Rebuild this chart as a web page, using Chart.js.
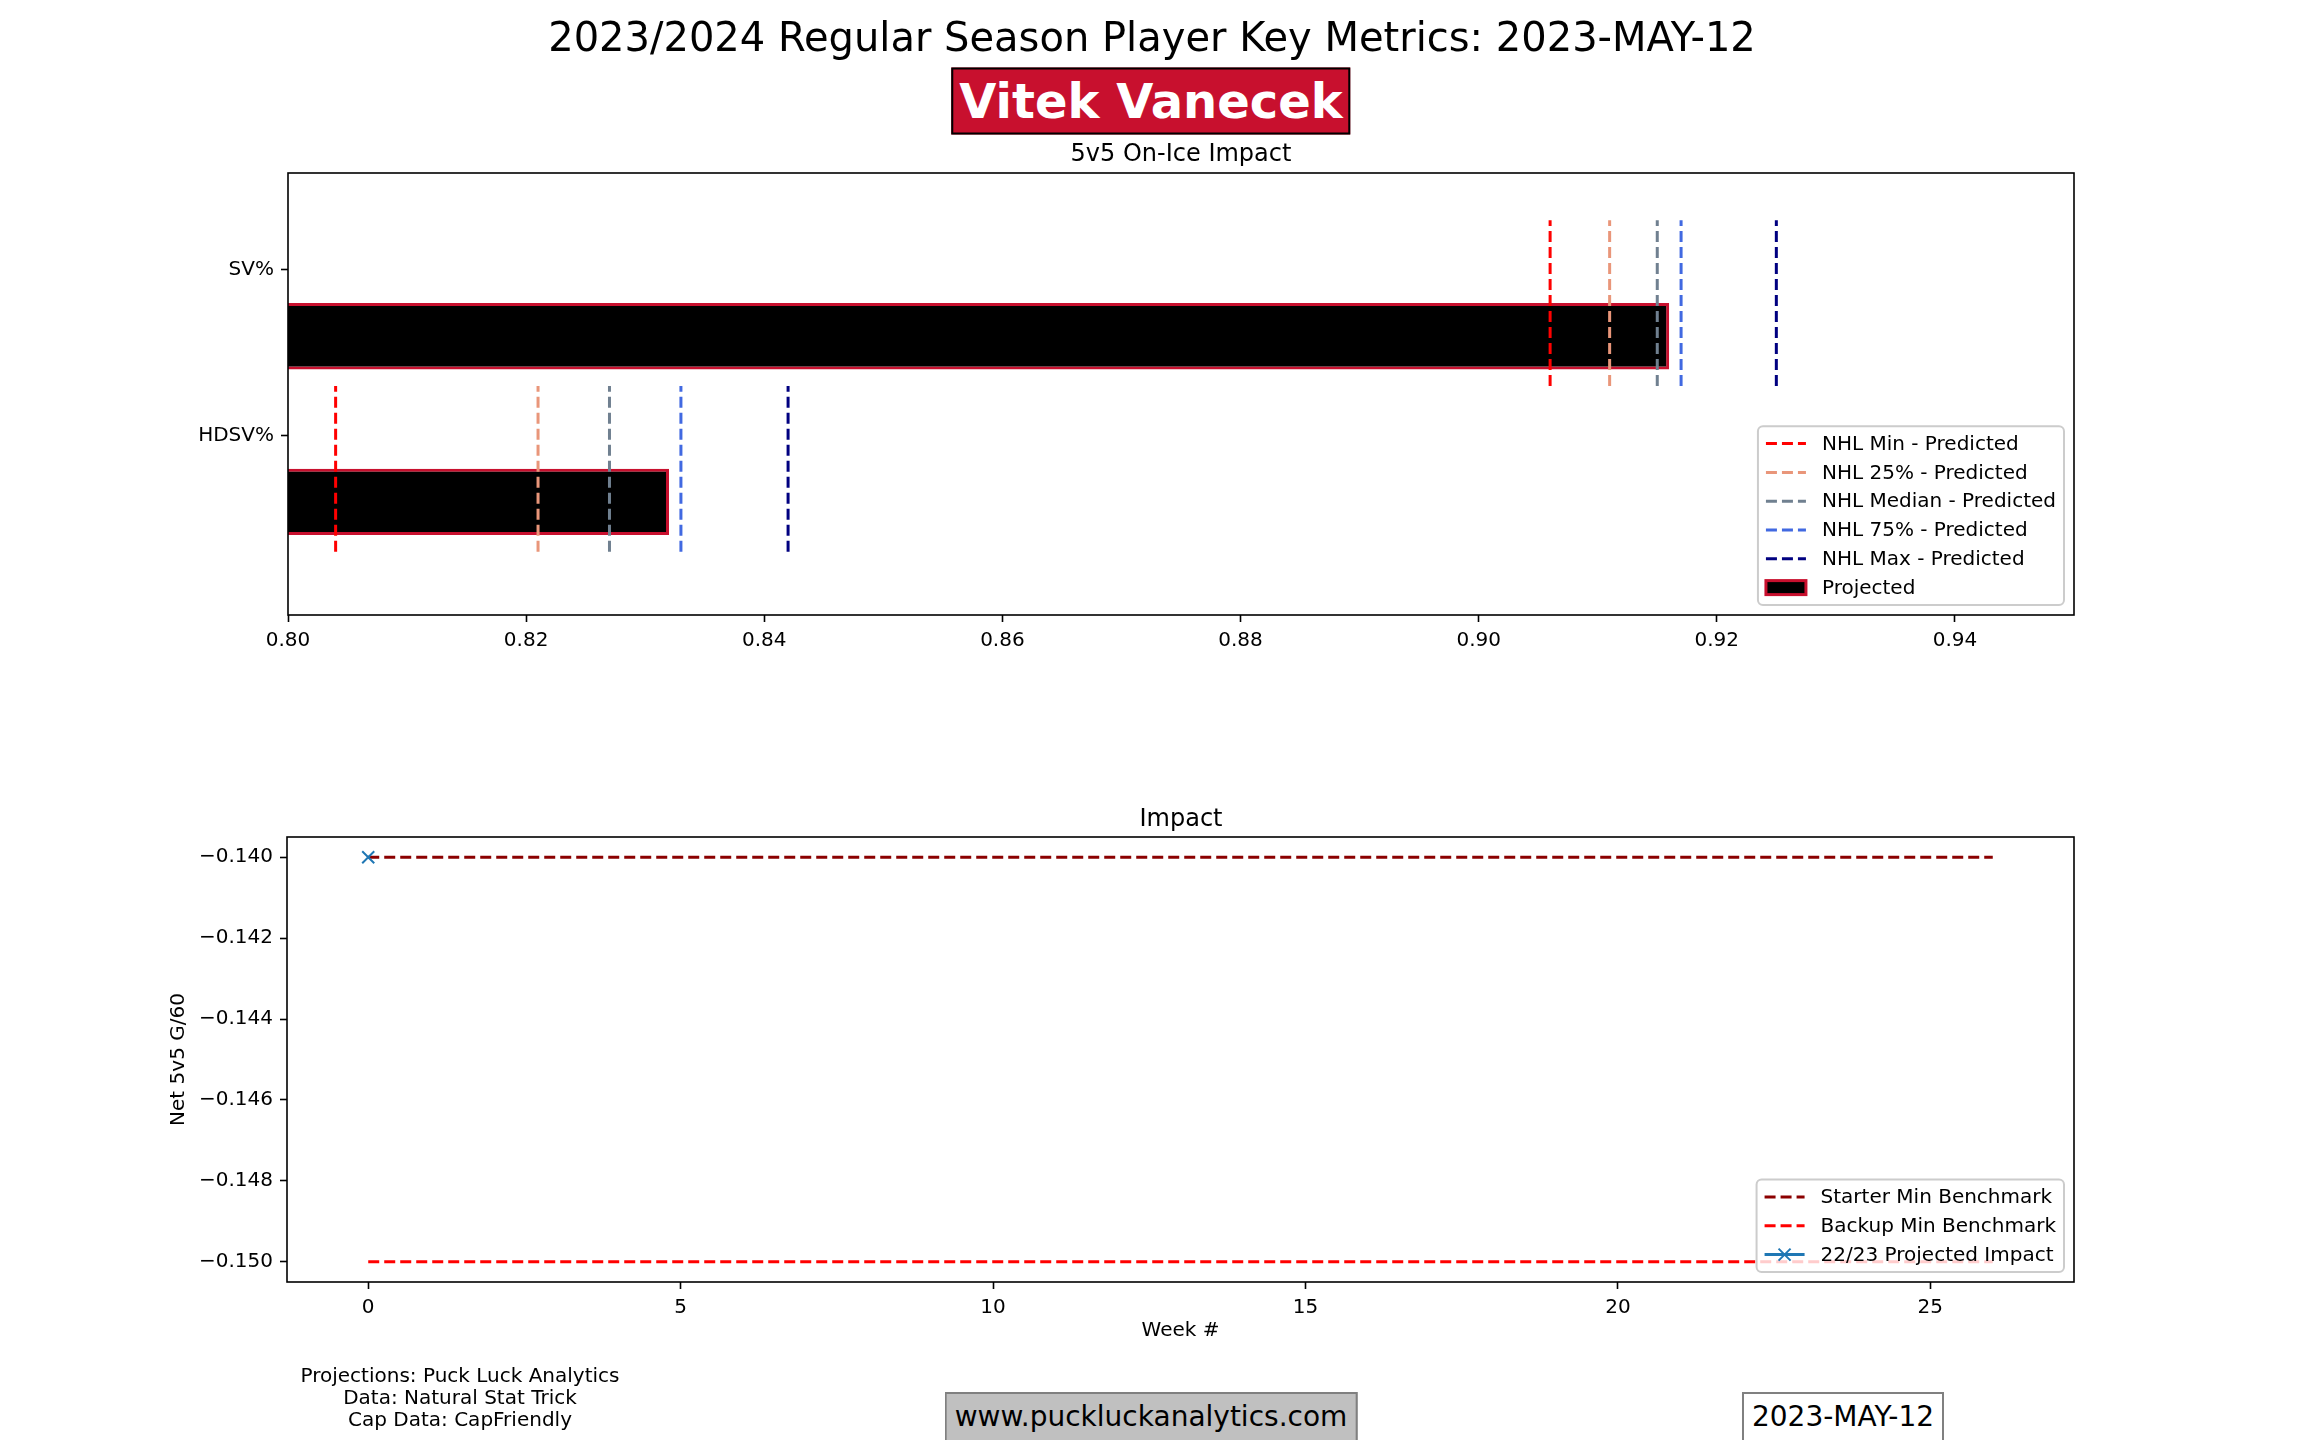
<!DOCTYPE html>
<html>
<head>
<meta charset="utf-8">
<script src="https://cdn.jsdelivr.net/npm/chart.js@4.4.0/dist/chart.umd.min.js"></script>
<style>
  body { margin: 0; background: #fff; font-family: "DejaVu Sans", sans-serif; }
  #page { position: relative; width: 2304px; height: 1440px; overflow: hidden; background: #fff; }
  .layer { position: absolute; left: 0; top: 0; }
  .txt { position: absolute; white-space: nowrap; transform: translate(-50%, -50%); color: #000; }
  #name { background: #C8102E; color: #fff; font-weight: bold; font-size: 48px; border: 2px solid #000;
          padding: 2px 6px; line-height: 59px; }
  .box { border: 2px solid #808080; font-size: 28px; line-height: 34px; padding: 6px 8px 10px 8px; transform: translate(-50%, 0); }
</style>
</head>
<body>
<div id="page">
  <canvas id="top" class="layer" width="2304" height="1440"></canvas>
  <canvas id="bottom" class="layer" width="2304" height="1440"></canvas>

  <div class="txt" style="left:1152px; top:37px; font-size:40px;">2023/2024 Regular Season Player Key Metrics: 2023-MAY-12</div>
  <div class="txt" id="name" style="left:1151px; top:101px;">Vitek Vanecek</div>
  <div class="txt" style="left:1181px; top:153px; font-size:24px;">5v5 On-Ice Impact</div>
  <div class="txt" style="left:1181px; top:818px; font-size:24px;">Impact</div>

  <div class="txt" style="left:460px; top:1397px; font-size:20px; text-align:center; line-height:22px;">
    Projections: Puck Luck Analytics<br>Data: Natural Stat Trick<br>Cap Data: CapFriendly
  </div>
  <div class="txt box" style="left:1151px; top:1392px; background:#C0C0C0;">www.puckluckanalytics.com</div>
  <div class="txt box" style="left:1843px; top:1392px; background:#fff;">2023-MAY-12</div>
</div>

<script>
// ---- data ----
var metrics = ['SV%', 'HDSV%'];
var projected = [0.916, 0.832];
var nhlMin = [0.906, 0.804];
var nhl25 = [0.911, 0.821];
var nhlMedian = [0.915, 0.827];
var nhl75 = [0.917, 0.833];
var nhlMax = [0.925, 0.842];
var pctTicks = [0.80, 0.82, 0.84, 0.86, 0.88, 0.90, 0.92, 0.94];

var weeks = [0, 26];
var starterMin = [-0.14, -0.14];
var backupMin = [-0.15, -0.15];
var projWeeks = [0];
var projImpact = [-0.14];
var weekTicks = [0, 5, 10, 15, 20, 25];
var impactTicks = [-0.150, -0.148, -0.146, -0.144, -0.142, -0.140];

var DASH = [11, 5];
var FONT = '"DejaVu Sans", sans-serif';

// y position of each metric row (top row highest)
function rowPos(i) { return metrics.length - 1 - i; }

// matplotlib-ish frame and legend drawn inside the axes
var frameLegend = {
  id: 'frameLegend',
  afterDatasetsDraw: function(chart, args, opts) {
    var ctx = chart.ctx, a = chart.chartArea;
    ctx.save();
    ctx.strokeStyle = '#000';
    ctx.lineWidth = 1.6;
    ctx.strokeRect(a.left, a.top, a.right - a.left, a.bottom - a.top);

    var items = opts.items || [];
    ctx.font = '20px ' + FONT;
    var tw = 0;
    items.forEach(function(it) { tw = Math.max(tw, ctx.measureText(it.text).width); });
    var pad = 8, rowH = 18.8, gap = 10, hl = 40, hp = 16;
    var w = pad * 2 + hl + hp + tw;
    var h = pad * 2 + items.length * rowH + (items.length - 1) * gap;
    var x0 = a.right - 10 - w, y0 = a.bottom - 10 - h;
    ctx.fillStyle = 'rgba(255,255,255,0.8)';
    ctx.strokeStyle = '#cccccc';
    ctx.lineWidth = 2;
    ctx.beginPath();
    ctx.roundRect(x0, y0, w, h, 5);
    ctx.fill();
    ctx.stroke();
    items.forEach(function(it, i) {
      var cy = y0 + pad + rowH / 2 + i * (rowH + gap);
      var hx = x0 + pad;
      if (it.kind === 'box') {
        ctx.fillStyle = '#000';
        ctx.fillRect(hx, cy - 7, hl, 14);
        ctx.strokeStyle = it.color;
        ctx.lineWidth = 3;
        ctx.strokeRect(hx, cy - 7, hl, 14);
      } else {
        ctx.strokeStyle = it.color;
        ctx.lineWidth = 3;
        ctx.setLineDash(it.dash ? DASH : []);
        ctx.beginPath();
        ctx.moveTo(hx, cy);
        ctx.lineTo(hx + hl, cy);
        ctx.stroke();
        ctx.setLineDash([]);
        if (it.marker) {
          ctx.lineWidth = 2;
          ctx.beginPath();
          ctx.moveTo(hx + hl / 2 - 6, cy - 6); ctx.lineTo(hx + hl / 2 + 6, cy + 6);
          ctx.moveTo(hx + hl / 2 - 6, cy + 6); ctx.lineTo(hx + hl / 2 + 6, cy - 6);
          ctx.stroke();
        }
      }
      ctx.fillStyle = '#000';
      ctx.textBaseline = 'middle';
      ctx.textAlign = 'left';
      ctx.fillText(it.text, hx + hl + hp, cy + 1);
    });
    ctx.restore();
  }
};

function tickGrid() {
  return { display: true, offset: false, drawOnChartArea: false, drawTicks: true, tickLength: 7, tickWidth: 1.6, color: '#000' };
}

// ---- top chart: horizontal bars with benchmark lines ----
function vline(vals, color, label) {
  var pts = [];
  vals.forEach(function(v, i) {
    var p = rowPos(i);
    if (i > 0) pts.push({ x: v, y: NaN });
    pts.push({ x: v, y: p - 0.7 }, { x: v, y: p + 0.3 });
  });
  return { type: 'line', label: label, data: pts, borderColor: color, borderWidth: 3, borderDash: DASH,
           pointRadius: 0, fill: false, spanGaps: false, indexAxis: 'y', clip: 0 };
}

new Chart(document.getElementById('top'), {
  type: 'bar',
  data: {
    datasets: [
      vline(nhlMin, 'red', 'NHL Min - Predicted'),
      vline(nhl25, '#E9967A', 'NHL 25% - Predicted'),
      vline(nhlMedian, '#708090', 'NHL Median - Predicted'),
      vline(nhl75, '#4169E1', 'NHL 75% - Predicted'),
      vline(nhlMax, '#000080', 'NHL Max - Predicted'),
      {
        label: 'Projected',
        data: projected.map(function(v, i) { return { x: v, y: rowPos(i) - 0.4 }; }),
        backgroundColor: '#000', borderColor: '#C8102E', borderWidth: 3, borderSkipped: 'start',
        barPercentage: 0.4, categoryPercentage: 1, clip: 0, order: 10
      }
    ]
  },
  options: {
    indexAxis: 'y',
    responsive: false, animation: false,
    layout: { padding: { left: 0, top: 173, right: 230, bottom: 1440 - 615 - 60 } },
    plugins: {
      legend: { display: false }, tooltip: { enabled: false },
      frameLegend: { items: [
        { text: 'NHL Min - Predicted', color: 'red', dash: true },
        { text: 'NHL 25% - Predicted', color: '#E9967A', dash: true },
        { text: 'NHL Median - Predicted', color: '#708090', dash: true },
        { text: 'NHL 75% - Predicted', color: '#4169E1', dash: true },
        { text: 'NHL Max - Predicted', color: '#000080', dash: true },
        { text: 'Projected', color: '#C8102E', kind: 'box' }
      ] }
    },
    scales: {
      x: {
        type: 'linear', min: 0.80, max: 0.95, offset: false,
        afterBuildTicks: function(s) { s.ticks = pctTicks.map(function(v) { return { value: v }; }); },
        afterFit: function(s) { s.height = 60; },
        ticks: { color: '#000', font: { family: FONT, size: 20 }, padding: 7, maxRotation: 0,
                 callback: function(v) { return v.toFixed(2); } },
        grid: tickGrid(), border: { display: false }
      },
      y: {
        type: 'linear', min: -1.082, max: 1.585, offset: false,
        afterBuildTicks: function(s) { s.ticks = metrics.map(function(m, i) { return { value: rowPos(i) }; }); },
        afterFit: function(s) { s.width = 288; },
        ticks: { color: '#000', font: { family: FONT, size: 20 }, padding: 7,
                 callback: function(v) { return metrics[metrics.length - 1 - v]; } },
        grid: tickGrid(), border: { display: false }
      }
    }
  },
  plugins: [frameLegend]
});

// ---- bottom chart: weekly impact ----
function pts(xs, ys) { return xs.map(function(x, i) { return { x: x, y: ys[i] }; }); }

new Chart(document.getElementById('bottom'), {
  type: 'scatter',
  data: {
    datasets: [
      { label: '22/23 Projected Impact', data: pts(projWeeks, projImpact), showLine: true,
        borderColor: '#1f77b4', backgroundColor: '#1f77b4', borderWidth: 2, pointStyle: 'crossRot',
        pointRadius: 8.5, clip: false },
      { label: 'Starter Min Benchmark', data: pts(weeks, starterMin), showLine: true,
        borderColor: '#8B0000', borderWidth: 3, borderDash: DASH, pointRadius: 0, clip: false },
      { label: 'Backup Min Benchmark', data: pts(weeks, backupMin), showLine: true,
        borderColor: 'red', borderWidth: 3, borderDash: DASH, pointRadius: 0, clip: false }
    ]
  },
  options: {
    responsive: false, animation: false,
    layout: { padding: { left: 163, top: 837, right: 230, bottom: 1440 - 1282 - 65 } },
    plugins: {
      legend: { display: false }, tooltip: { enabled: false },
      frameLegend: { items: [
        { text: 'Starter Min Benchmark', color: '#8B0000', dash: true },
        { text: 'Backup Min Benchmark', color: 'red', dash: true },
        { text: '22/23 Projected Impact', color: '#1f77b4', marker: true }
      ] }
    },
    scales: {
      x: {
        type: 'linear', min: -1.3, max: 27.3,
        afterBuildTicks: function(s) { s.ticks = weekTicks.map(function(v) { return { value: v }; }); },
        afterFit: function(s) { s.height = 65; },
        ticks: { color: '#000', font: { family: FONT, size: 20 }, padding: 7, maxRotation: 0 },
        title: { display: true, text: 'Week #', color: '#000', font: { family: FONT, size: 20 }, padding: { top: 4, bottom: 4 } },
        grid: tickGrid(), border: { display: false }
      },
      y: {
        type: 'linear', min: -0.1505, max: -0.1395,
        afterBuildTicks: function(s) { s.ticks = impactTicks.map(function(v) { return { value: v }; }); },
        afterFit: function(s) { s.width = 287 - 163; },
        ticks: { color: '#000', font: { family: FONT, size: 20 }, padding: 7,
                 callback: function(v) { return v.toFixed(3).replace('-', '\u2212'); } },
        title: { display: true, text: 'Net 5v5 G/60', color: '#000', font: { family: FONT, size: 20 }, padding: { top: 4, bottom: 4 } },
        grid: tickGrid(), border: { display: false }
      }
    }
  },
  plugins: [frameLegend]
});
</script>
</body>
</html>
